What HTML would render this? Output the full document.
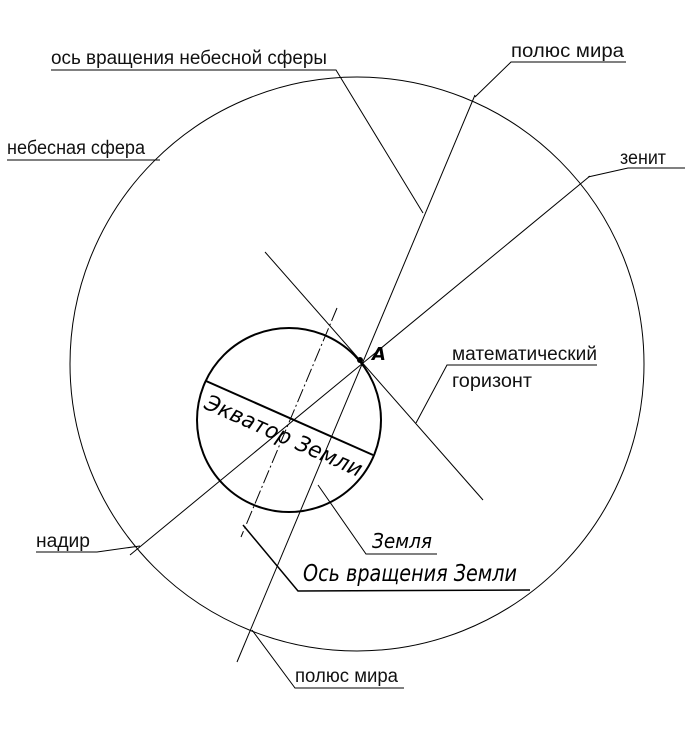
<!DOCTYPE html>
<html><head><meta charset="utf-8"><style>
html,body{margin:0;padding:0;background:#fff;}
svg{display:block;}
.t{font-family:"Liberation Sans","DejaVu Sans",sans-serif;font-size:19px;fill:#111;}
.i{font-family:"DejaVu Sans","Liberation Sans",sans-serif;font-style:italic;fill:#000;}
</style></head><body>
<svg width="695" height="732" viewBox="0 0 695 732" xmlns="http://www.w3.org/2000/svg">
<g stroke="#000" fill="none" stroke-width="1">
<circle cx="357" cy="364" r="287"/>
<circle cx="289" cy="420" r="92" stroke-width="2"/>
<line x1="475" y1="95" x2="237" y2="662"/>
<line x1="590" y1="176" x2="130" y2="555"/>
<line x1="265" y1="252" x2="483" y2="500"/>
<line x1="206" y1="381" x2="373" y2="455" stroke-width="2"/>
<line x1="337" y1="308" x2="241" y2="537" stroke-dasharray="14,3,2,3"/>
<polyline points="475,97 511,62 626,62"/>
<polyline points="51,70 336,70 423,213"/>
<polyline points="7,160 160,160"/>
<polyline points="588,177 628,168 685,168"/>
<polyline points="36,552 97,552 140,546"/>
<polyline points="416,423 447,365 597,365"/>
<polyline points="318,485 366,554 437,554"/>
<polyline points="243,525 298,591 530,590" stroke-width="1.5"/>
<polyline points="252,630 295,688 404,688"/>
</g>
<circle cx="360" cy="360" r="3" fill="#000"/>
<text x="372" y="360" class="i" font-size="18" font-weight="bold">A</text>
<text x="511" y="57" class="t" textLength="113" lengthAdjust="spacingAndGlyphs">полюс мира</text>
<text x="51" y="64" class="t" textLength="276" lengthAdjust="spacingAndGlyphs">ось вращения небесной сферы</text>
<text x="7" y="154" class="t" textLength="138" lengthAdjust="spacingAndGlyphs">небесная сфера</text>
<text x="620" y="164" class="t" textLength="46" lengthAdjust="spacingAndGlyphs">зенит</text>
<text x="36" y="547" class="t" textLength="54" lengthAdjust="spacingAndGlyphs">надир</text>
<text x="452" y="360" class="t" textLength="145" lengthAdjust="spacingAndGlyphs">математический</text>
<text x="452" y="387" class="t" textLength="80" lengthAdjust="spacingAndGlyphs">горизонт</text>
<text x="295" y="682" class="t" textLength="103" lengthAdjust="spacingAndGlyphs">полюс мира</text>
<text x="372" y="548" class="i" font-size="20" textLength="60" lengthAdjust="spacingAndGlyphs">Земля</text>
<text x="303" y="581" class="i" font-size="23" textLength="214" lengthAdjust="spacingAndGlyphs">Ось вращения Земли</text>
<text class="i" font-size="22" transform="translate(203,408) rotate(24)" textLength="170" lengthAdjust="spacingAndGlyphs">Экватор Земли</text>
</svg>
</body></html>
